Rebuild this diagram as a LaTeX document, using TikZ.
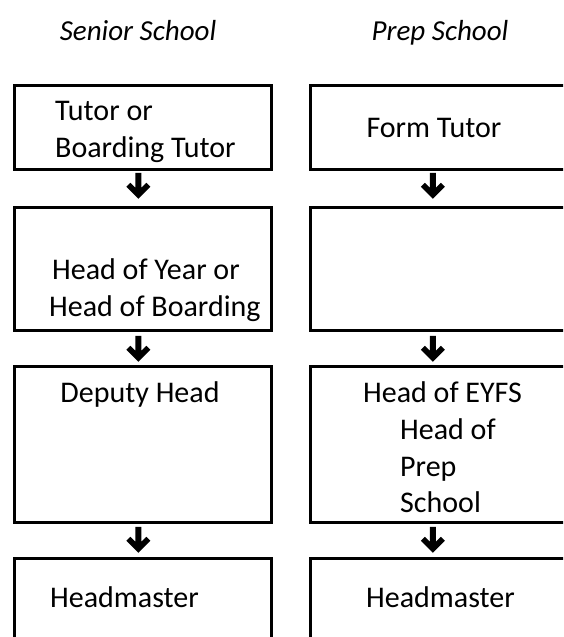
\documentclass[tikz,border=0pt]{standalone}
\usepackage{fontspec}
\setmainfont{Carlito}
\usetikzlibrary{calc}
\tikzset{
  box/.style={draw, line width=2.8pt, anchor=north west, inner sep=0pt},
  lbl/.style={anchor=base west, inner sep=0pt, font=\fontsize{30}{36}\selectfont},
  clbl/.style={anchor=base, inner sep=0pt, font=\fontsize{30}{36}\selectfont},
  head/.style={anchor=base, inner sep=0pt, font=\fontsize{29}{35}\selectfont\itshape},
  darrow/.pic={\fill (-3,0) -- (3,0) -- (3,15) -- (8,10) -- (12,14) -- (0,26) -- (-12,14) -- (-8,10) -- (-3,15) -- cycle;}
}
\begin{document}
\begin{tikzpicture}[x=1pt,y=-1pt]
\useasboundingbox (0,0) rectangle (563,637);
\clip (0,0) rectangle (563,637);
% headings
\node[head] (hs) at (138,40) {Senior School};
\node[head] (hp) at (440,40) {Prep School};
% left boxes
\node[box, minimum width=257pt, minimum height=84pt]  (l1) at (13,84) {};
\node[box, minimum width=257pt, minimum height=123pt] (l2) at (13,206) {};
\node[box, minimum width=257pt, minimum height=156pt] (l3) at (13,365) {};
\node[box, minimum width=257pt, minimum height=110pt] (l4) at (13,557) {};
% right boxes
\node[box, minimum width=280pt, minimum height=84pt]  (r1) at (309,84) {};
\node[box, minimum width=280pt, minimum height=123pt] (r2) at (309,206) {};
\node[box, minimum width=280pt, minimum height=156pt] (r3) at (309,365) {};
\node[box, minimum width=280pt, minimum height=110pt] (r4) at (309,557) {};
% arrows
\pic at ($(l1.south)+(-4.5,2)$) {darrow};
\pic at ($(l2.south)+(-4.5,4)$) {darrow};
\pic at ($(l3.south)+(-4.5,3)$) {darrow};
\pic at ($(r1.south)+(-17.5,2)$) {darrow};
\pic at ($(r2.south)+(-17.5,4)$) {darrow};
\pic at ($(r3.south)+(-17.5,3)$) {darrow};
% texts
\node[lbl] (t1a) at (55,120) {Tutor or};
\node[lbl] (t1b) at (55,157) {Boarding Tutor};
\node[clbl] (t1r) at (434,137) {Form Tutor};
\node[lbl] (t2a) at (52,279) {Head of Year or};
\node[lbl] (t2b) at (49,316) {Head of Boarding};
\node[clbl] (t3) at (140,402) {Deputy Head};
\node[lbl] (t3a) at (363,402) {Head of EYFS};
\node[lbl] (t3b) at (400,439) {Head of};
\node[lbl] (t3c) at (400,476) {Prep};
\node[lbl] (t3d) at (400,512) {School};
\node[lbl] (t4) at (50,607) {Headmaster};
\node[lbl] (t4r) at (366,607) {Headmaster};
\end{tikzpicture}
\end{document}
